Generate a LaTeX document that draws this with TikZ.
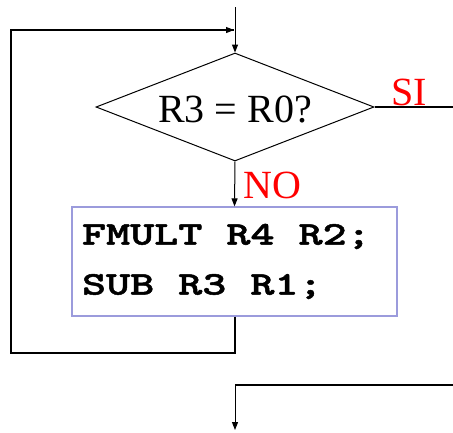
\documentclass[tikz,border=0pt]{standalone}
\usepackage{fontspec}
\setmainfont{Liberation Serif}
\newfontfamily\codefont{lmmonolt10-bold.otf}[FakeStretch=1.39,FakeBold=1.5]
\usetikzlibrary{arrows.meta,shapes.geometric}
\definecolor{boxlila}{RGB}{155,155,220}

\begin{document}
\begin{tikzpicture}[x=1pt,y=-1pt,line width=1pt,>={Triangle[length=8pt,width=6pt]},
  decision/.style={draw,diamond,aspect=2.57,minimum width=278pt,minimum height=108pt,inner sep=0pt,text height=31pt,text depth=0pt,font=\fontsize{40}{48}\selectfont},
  branch/.style={text=red,inner sep=0pt,anchor=base west,font=\fontsize{40}{48}\selectfont},
  codebox/.style={draw=boxlila,line width=1.2pt,minimum width=325pt,minimum height=109pt,text width=305pt,inner xsep=10pt,align=left,font=\codefont\fontsize{33}{50}\selectfont},
  thick line/.style={line width=2pt}]
  \useasboundingbox (0,0) rectangle (453,432);
  % condicion
  \coordinate (entry) at (235,7);
  \node[decision] (test) at (235,107) {R3 = R0?};
  \draw[->] (entry) -- (test.north);
  \node[branch] (si) at (391,105) {SI};
  \coordinate (siout) at (453,107);
  \draw[thick line] (test.east) -- (siout);
  % cuerpo del lazo
  \node[codebox] (body) at (234.5,261.5) {\spaceskip=24pt\relax FMULT R4 R2;\\SUB R3 R1;};
  \node[branch] (no) at (243,198) {NO};
  \draw[->] (test.south) -- (body.north);
  % vuelta
  \coordinate (back) at (11,353);
  \coordinate (join) at (234,30);
  \draw[thick line] (body.south) |- (back) |- (join);
  \draw[->] (back |- join) -- (join);
  % salida
  \coordinate (siin) at (453,385);
  \coordinate (exit) at (235,430);
  \draw[thick line] (siin) -| (exit |- siin);
  \draw[->] (exit |- siin) -- (exit);
\end{tikzpicture}
\end{document}
